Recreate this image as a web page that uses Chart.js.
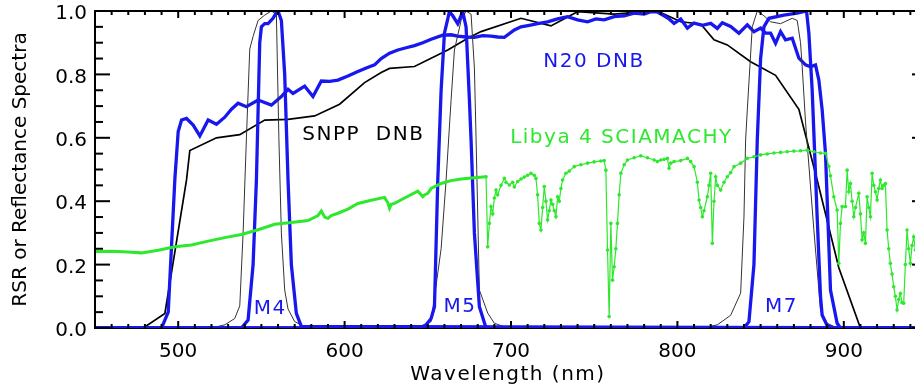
<!DOCTYPE html>
<html>
<head>
<meta charset="utf-8">
<script src="https://cdn.jsdelivr.net/npm/chart.js@4.4.1/dist/chart.umd.min.js"></script>
<style>
  html, body { margin: 0; padding: 0; background: #fff; overflow: hidden; }
  #wrap { position: relative; width: 935px; height: 389px; }
</style>
</head>
<body>
<div id="wrap"><canvas id="c"></canvas></div>
<script>
// Values: wavelength (nm) and RSR / reflectance
const snppDnbWl  = [450, 479, 492, 505, 507, 523, 537, 552, 566, 582, 597, 612, 622, 627, 642, 662, 674, 682, 706, 724, 740, 762, 786, 790, 802, 814, 822, 830, 844, 859, 873, 884, 897, 910, 950];
const snppDnbRsr = [0, 0, 0.046, 0.467, 0.56, 0.60, 0.61, 0.656, 0.658, 0.669, 0.706, 0.774, 0.806, 0.819, 0.825, 0.877, 0.914, 0.935, 0.977, 0.953, 0.998, 0.99, 1.0, 0.995, 0.966, 0.959, 0.909, 0.893, 0.84, 0.797, 0.69, 0.467, 0.19, 0.0, 0];

const n20DnbWl  = [450, 490, 494, 498, 500, 502, 505, 509, 513, 518, 523, 528, 532, 536, 541, 548, 556, 562, 566, 569, 576, 581, 586, 591, 596, 602, 608, 613, 618, 622, 627, 632, 637, 642, 647, 652, 659, 664, 668, 673, 678, 683, 688, 692, 696, 702, 706, 711, 716, 722, 728, 734, 740, 746, 751, 756, 762, 768, 774, 780, 784, 788, 792, 795, 798, 802, 806, 810, 815, 820, 824, 827, 832, 837, 842, 846, 850, 853, 856, 859, 862, 865, 869, 873, 877, 880, 883, 885, 887, 889, 892, 896, 898, 950];
const n20DnbRsr = [0, 0, 0.05, 0.47, 0.62, 0.656, 0.661, 0.64, 0.606, 0.656, 0.643, 0.665, 0.69, 0.709, 0.698, 0.719, 0.703, 0.73, 0.753, 0.74, 0.763, 0.73, 0.779, 0.778, 0.782, 0.795, 0.809, 0.82, 0.83, 0.85, 0.867, 0.877, 0.884, 0.891, 0.9, 0.911, 0.924, 0.925, 0.921, 0.918, 0.917, 0.922, 0.921, 0.918, 0.917, 0.94, 0.95, 0.955, 0.96, 0.966, 0.975, 0.982, 0.972, 0.966, 0.975, 0.972, 0.982, 0.985, 0.993, 0.99, 0.998, 0.997, 0.985, 0.975, 0.961, 0.975, 0.946, 0.962, 0.955, 0.961, 0.945, 0.963, 0.951, 0.93, 0.956, 0.935, 0.946, 0.93, 0.93, 0.898, 0.935, 0.909, 0.914, 0.851, 0.83, 0.824, 0.83, 0.782, 0.688, 0.55, 0.12, 0.015, 0, 0];

const snppM4Wl  = [450, 520, 528, 534, 537, 539, 541, 543, 545, 548, 552, 556, 559, 560.5, 562, 564, 566, 570, 576, 585, 950];
const snppM4Rsr = [0, 0, 0.01, 0.03, 0.07, 0.3, 0.6, 0.88, 0.92, 0.97, 0.987, 1.0, 0.99, 0.6, 0.3, 0.12, 0.06, 0.02, 0.005, 0, 0];
const n20M4Wl  = [450, 538, 542, 545, 547, 549, 550, 552, 554, 557, 559, 560, 562, 564, 566, 568, 571, 574, 950];
const n20M4Rsr = [0, 0, 0.025, 0.2, 0.467, 0.9, 0.95, 0.96, 0.96, 0.977, 0.995, 1.0, 0.97, 0.8, 0.467, 0.2, 0.046, 0.005, 0];

const snppM5Wl  = [450, 640, 645, 652, 658, 661, 664, 666, 670, 673, 676, 678, 679, 681, 686, 690, 698, 950];
const snppM5Rsr = [0, 0, 0.005, 0.02, 0.25, 0.467, 0.72, 0.877, 0.97, 1.0, 0.99, 0.82, 0.6, 0.12, 0.047, 0.015, 0, 0];
const n20M5Wl  = [450, 645, 648, 652, 654, 656, 658, 660, 663, 665, 668, 670, 671, 673, 675, 676, 678, 681, 685, 950];
const n20M5Rsr = [0, 0, 0.004, 0.03, 0.067, 0.467, 0.75, 0.93, 0.998, 0.985, 0.96, 0.985, 0.998, 0.95, 0.72, 0.593, 0.3, 0.067, 0, 0];

const snppM7Wl  = [450, 815, 824, 832, 838, 840, 841, 842, 845, 848, 852, 856, 862, 869, 872, 874, 875, 877, 882, 886, 890, 896, 950];
const snppM7Rsr = [0, 0, 0.01, 0.04, 0.11, 0.35, 0.593, 0.688, 0.95, 1.0, 0.985, 0.966, 0.96, 0.977, 0.97, 0.9, 0.824, 0.65, 0.31, 0.057, 0.015, 0, 0];
const n20M7Wl  = [450, 840, 843, 846, 848, 850, 852, 855, 864, 872, 877.6, 879, 881, 882.5, 884, 886, 887, 890, 894, 950];
const n20M7Rsr = [0, 0, 0.02, 0.2, 0.593, 0.85, 0.95, 0.977, 0.987, 0.993, 1.0, 0.93, 0.75, 0.55, 0.35, 0.1, 0.04, 0.008, 0, 0];

// Libya 4 SCIAMACHY reflectance: smooth part, then the noisy sampled part
const libyaWl   = [450, 460, 470, 478, 488, 498, 508, 518, 528, 538, 548, 558, 568, 578, 584, 586, 588, 590, 592, 596, 602, 608, 616, 624, 626, 627, 628, 630, 636, 644, 647, 648, 650, 652, 658, 664, 670, 676, 685];
const libyaRefl = [0.241, 0.242, 0.24, 0.237, 0.245, 0.256, 0.262, 0.274, 0.285, 0.295, 0.31, 0.327, 0.333, 0.339, 0.355, 0.369, 0.35, 0.346, 0.355, 0.362, 0.375, 0.393, 0.403, 0.412, 0.395, 0.378, 0.39, 0.393, 0.41, 0.432, 0.414, 0.42, 0.425, 0.44, 0.456, 0.465, 0.47, 0.473, 0.477];
const libyaNirWl   = [685, 686, 687, 688, 689, 690, 691, 692, 694, 696, 697, 699, 701, 702, 704, 706, 708, 710, 712, 714, 715, 716, 717, 718, 719, 720, 721, 722, 723, 724, 725, 726, 727, 728, 729, 730, 731, 733, 735, 738, 742, 746, 750, 754, 756, 757, 758, 759, 760, 761, 762, 763, 764, 765, 766, 768, 770, 774, 778, 782, 786, 788, 790, 792, 794, 795, 796, 798, 802, 806, 808, 810, 812, 813, 814, 815, 816, 818, 819, 820, 821, 822, 823, 824, 826, 828, 830, 832, 834, 838, 842, 846, 850, 854, 858, 862, 866, 870, 874, 878, 882, 886, 889, 891, 892, 894, 896, 897, 898, 899, 901, 902, 903, 904, 905, 906, 907, 909, 910, 911, 912, 913, 914, 915, 916, 917, 918, 919, 920, 921, 922, 923, 924, 925, 926, 927, 928, 929, 930, 931, 932, 933, 934, 935, 936, 937, 938, 939, 940, 941, 942, 943, 945, 948];
const libyaNirRefl = [0.477, 0.256, 0.33, 0.383, 0.36, 0.41, 0.435, 0.42, 0.45, 0.472, 0.46, 0.451, 0.46, 0.445, 0.462, 0.47, 0.476, 0.482, 0.488, 0.482, 0.472, 0.42, 0.33, 0.309, 0.38, 0.446, 0.4, 0.341, 0.37, 0.404, 0.39, 0.37, 0.351, 0.414, 0.4, 0.44, 0.467, 0.488, 0.495, 0.509, 0.515, 0.52, 0.524, 0.527, 0.528, 0.498, 0.246, 0.036, 0.33, 0.151, 0.193, 0.25, 0.33, 0.42, 0.488, 0.515, 0.53, 0.537, 0.543, 0.537, 0.53, 0.525, 0.53, 0.532, 0.535, 0.504, 0.52, 0.525, 0.528, 0.535, 0.525, 0.509, 0.46, 0.404, 0.38, 0.351, 0.37, 0.414, 0.45, 0.488, 0.267, 0.4, 0.477, 0.45, 0.435, 0.46, 0.477, 0.49, 0.509, 0.52, 0.535, 0.54, 0.546, 0.549, 0.552, 0.554, 0.556, 0.558, 0.559, 0.561, 0.556, 0.552, 0.551, 0.51, 0.48, 0.414, 0.372, 0.204, 0.33, 0.383, 0.383, 0.498, 0.43, 0.456, 0.4, 0.351, 0.38, 0.425, 0.36, 0.278, 0.3, 0.267, 0.414, 0.38, 0.351, 0.488, 0.45, 0.43, 0.404, 0.44, 0.467, 0.44, 0.45, 0.456, 0.309, 0.25, 0.204, 0.17, 0.13, 0.1, 0.057, 0.09, 0.109, 0.08, 0.078, 0.2, 0.309, 0.25, 0.204, 0.26, 0.288, 0.246, 0.2, 0.22];

const xTicks = [500, 600, 700, 800, 900];
const yTicks = [0, 0.2, 0.4, 0.6, 0.8, 1.0];
const xMinorStep = 10;
const yMinorStep = 0.05;

const BLUE = "rgb(24,24,238)";
const GREEN = "rgb(46,232,46)";
const FONT = '"DejaVu Sans", sans-serif';

const curveLabels = [
  { text: "SNPP  DNB", wl: 574.6, v: 0.609, color: "#000" },
  { text: "N20 DNB", wl: 719.4, v: 0.84, color: BLUE },
  { text: "Libya 4 SCIAMACHY", wl: 699.5, v: 0.60, color: GREEN },
  { text: "M4", wl: 545.4, v: 0.062, color: BLUE },
  { text: "M5", wl: 659.4, v: 0.067, color: BLUE },
  { text: "M7", wl: 852.6, v: 0.067, color: BLUE }
];

const pts = (wl, v) => wl.map((x, i) => ({ x, y: v[i] }));

function lineSet(data, color, width, extra) {
  return Object.assign({
    data, borderColor: color, backgroundColor: color, borderWidth: width,
    pointRadius: 0, tension: 0, fill: false
  }, extra || {});
}

// IDL-style box and minor inward ticks, 2px so they survive the capture
function drawBox(chart) {
  const c = chart.ctx;
  const a = chart.chartArea;
  const sx = chart.scales.x, sy = chart.scales.y;
  c.save();
  c.fillStyle = "#000";
  c.fillRect(a.left - 1, a.top - 1, a.right - a.left + 2, 2);
  c.fillRect(a.left - 1, a.top - 1, 2, a.bottom - a.top + 2);
  c.fillRect(a.right - 1, a.top - 1, 2, a.bottom - a.top + 2);
  for (let i = 0; i <= 50; i++) {
    const v = 450 + i * xMinorStep;
    const px = sx.getPixelForValue(v);
    const len = v % 100 === 0 ? 7 : 4;
    c.fillRect(px - 1, a.bottom - len, 2, len);
    c.fillRect(px - 1, a.top, 2, len);
  }
  for (let k = 0; k <= 20; k++) {
    const py = sy.getPixelForValue(k * yMinorStep);
    const len = k % 4 === 0 ? 15 : 8;
    c.fillRect(a.left, py - 1, len, 2);
    c.fillRect(a.right - len, py - 1, len, 2);
  }
  c.restore();
}

const idlLabels = {
  id: "idlLabels",
  afterDatasetsDraw(chart) {
    const c = chart.ctx;
    const a = chart.chartArea;
    const sx = chart.scales.x, sy = chart.scales.y;
    drawBox(chart);
    c.save();
    c.font = "20px " + FONT;
    c.textAlign = "left";
    c.textBaseline = "middle";
    c.letterSpacing = "1.5px";
    curveLabels.forEach(l => {
      c.fillStyle = l.color;
      c.fillText(l.text, sx.getPixelForValue(l.wl), sy.getPixelForValue(l.v));
    });
    c.fillStyle = "#000";
    c.textAlign = "center";
    c.fillText("Wavelength (nm)", (a.left + a.right) / 2 - 3, a.bottom + 47);
    c.letterSpacing = "0px";
    c.translate(20.5, (a.top + a.bottom) / 2);
    c.rotate(-Math.PI / 2);
    c.fillText("RSR or Reflectance Spectra", 0, 0);
    c.restore();
  }
};

const edge = { display: true, color: "#000", width: 2 };

new Chart(document.getElementById("c"), {
  type: "line",
  data: {
    datasets: [
      lineSet(pts(libyaNirWl, libyaNirRefl), GREEN, 1.2, { pointRadius: 1.8, pointBorderWidth: 0 }),
      lineSet(pts(libyaWl, libyaRefl), GREEN, 3),
      lineSet(pts(n20M7Wl, n20M7Rsr), BLUE, 3.3),
      lineSet(pts(n20M5Wl, n20M5Rsr), BLUE, 3.3),
      lineSet(pts(n20M4Wl, n20M4Rsr), BLUE, 3.3),
      lineSet(pts(snppM7Wl, snppM7Rsr), "#333", 1),
      lineSet(pts(snppM5Wl, snppM5Rsr), "#333", 1),
      lineSet(pts(snppM4Wl, snppM4Rsr), "#333", 1),
      lineSet(pts(n20DnbWl, n20DnbRsr), BLUE, 3.3),
      lineSet(pts(snppDnbWl, snppDnbRsr), "#000", 1.7)
    ]
  },
  options: {
    responsive: true,
    maintainAspectRatio: false,
    animation: false,
    layout: { padding: { top: 11, right: 8, left: 0, bottom: 0 } },
    plugins: { legend: { display: false }, tooltip: { enabled: false } },
    scales: {
      x: {
        type: "linear", min: 450, max: 950,
        grid: { display: false, drawTicks: false }, border: edge,
        afterBuildTicks: s => { s.ticks = xTicks.map(v => ({ value: v })); },
        afterFit: s => { s.height = 61; s.paddingLeft = 0; s.paddingRight = 0; },
        ticks: { color: "#000", padding: 12, font: { family: FONT, size: 20 }, maxRotation: 0 }
      },
      y: {
        type: "linear", min: 0, max: 1,
        grid: { display: false, drawTicks: false }, border: edge,
        afterBuildTicks: s => { s.ticks = yTicks.map(v => ({ value: v })); },
        afterFit: s => { s.width = 95; s.paddingTop = 0; s.paddingBottom = 0; },
        ticks: { color: "#000", padding: 8, labelOffset: 3, font: { family: FONT, size: 20 },
                 callback: v => v.toFixed(1) }
      }
    }
  },
  plugins: [idlLabels]
});
</script>
</body>
</html>
